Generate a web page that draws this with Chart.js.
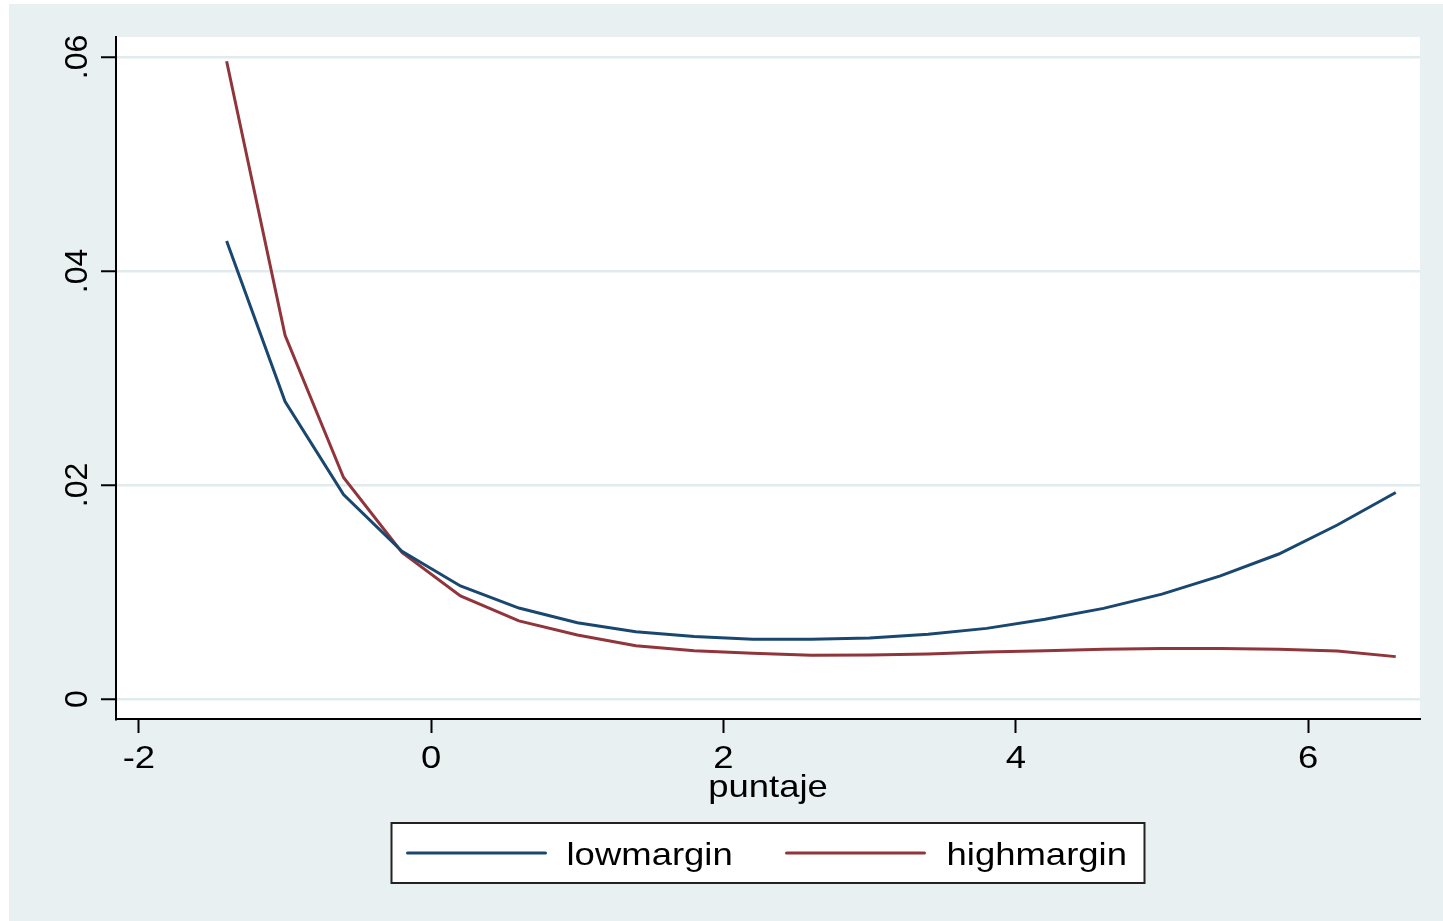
<!DOCTYPE html>
<html><head><meta charset="utf-8">
<script src="https://cdn.jsdelivr.net/npm/chart.js@4.4.1/dist/chart.umd.min.js"></script>
<style>html,body{margin:0;padding:0;background:#fff;overflow:hidden}#wrap{width:1443px;height:921px;position:relative}</style>
</head><body><div id="wrap"><canvas id="c"></canvas></div>
<script>
// ---- data ----
const puntaje    = [-1.4, -1.0, -0.6, -0.2, 0.2, 0.6, 1.0, 1.4, 1.8, 2.2, 2.6, 3.0, 3.4, 3.8, 4.2, 4.6, 5.0, 5.4, 5.8, 6.2, 6.6];
const lowmargin  = [0.0428, 0.0278, 0.0191, 0.0138, 0.01056, 0.0085, 0.00713, 0.00629, 0.00583, 0.00558, 0.00558, 0.0057, 0.00604, 0.0066, 0.00745, 0.00847, 0.0098, 0.0115, 0.01355, 0.01626, 0.0193];
const highmargin = [0.0596, 0.0340, 0.0207, 0.0137, 0.00963, 0.0073, 0.00598, 0.00498, 0.00451, 0.00427, 0.00408, 0.00411, 0.0042, 0.0044, 0.0045, 0.00464, 0.00472, 0.00473, 0.00464, 0.00449, 0.00396];
const seriesNames = ['lowmargin', 'highmargin'];
const xTicks = [-2, 0, 2, 4, 6];
const xTickLabels = ['-2', '0', '2', '4', '6'];
const yTicks = [0, 0.02, 0.04, 0.06];
const yTickLabels = ['0', '.02', '.04', '.06'];
const xTitle = 'puntaje';

// ---- styling ----
const BG = '#e8f0f2';
const GRID = '#e1ebee';
const FONT = '32px "Liberation Sans", Arial, Helvetica, sans-serif';
const SX = 1.14; // horizontal stretch of horizontal text

function pts(ys) { return puntaje.map((x, i) => ({ x: x, y: ys[i] })); }

function stretchedText(ctx, txt, x, y, align) {
  ctx.save();
  ctx.translate(x, y);
  ctx.scale(SX, 1);
  ctx.textAlign = align;
  ctx.textBaseline = 'alphabetic';
  ctx.fillText(txt, 0, 0);
  ctx.restore();
}

const stataPlugin = {
  id: 'stata',
  beforeDraw(chart) {
    const ctx = chart.ctx, a = chart.chartArea;
    ctx.save();
    ctx.fillStyle = '#ffffff';
    ctx.fillRect(0, 0, chart.width, chart.height);
    ctx.fillStyle = BG;
    ctx.fillRect(9, 4, chart.width - 9, chart.height - 4);
    ctx.fillStyle = '#ffffff';
    ctx.fillRect(a.left, a.top, a.right - a.left, a.bottom - a.top);
    ctx.restore();
  },
  afterDraw(chart) {
    const ctx = chart.ctx, a = chart.chartArea;
    const xs = chart.scales.x, ys = chart.scales.y;
    ctx.save();
    ctx.fillStyle = '#000';
    ctx.font = FONT;
    // x tick labels
    xTicks.forEach((v, i) => {
      stretchedText(ctx, xTickLabels[i], xs.getPixelForValue(v), a.bottom + 49, 'center');
    });
    // x title
    stretchedText(ctx, xs.options.title.text, (a.left + a.right) / 2, a.bottom + 78, 'center');
    // y tick labels rotated
    yTicks.forEach((v, i) => {
      ctx.save();
      ctx.translate(87, ys.getPixelForValue(v));
      ctx.rotate(-Math.PI / 2);
      ctx.textAlign = 'center';
      ctx.textBaseline = 'alphabetic';
      ctx.fillText(yTickLabels[i], 0, 0);
      ctx.restore();
    });
    // legend
    const cx = (a.left + a.right) / 2;
    const bw = 753, bh = 60;
    const bx = cx - bw / 2, by = a.bottom + 104;
    ctx.fillStyle = '#ffffff';
    ctx.fillRect(bx, by, bw, bh);
    ctx.strokeStyle = '#222';
    ctx.lineWidth = 2;
    ctx.strokeRect(bx, by, bw, bh);
    const ly = by + 30;
    const items = [{ x0: bx + 16, tx: bx + 175 }, { x0: bx + 395, tx: bx + 555 }];
    chart.data.datasets.forEach((ds, i) => {
      const it = items[i];
      ctx.strokeStyle = ds.borderColor;
      ctx.lineWidth = 3;
      ctx.lineCap = 'round';
      ctx.beginPath();
      ctx.moveTo(it.x0, ly);
      ctx.lineTo(it.x0 + 138, ly);
      ctx.stroke();
      ctx.fillStyle = '#000';
      stretchedText(ctx, ds.label, it.tx, ly + 12, 'left');
    });
    ctx.restore();
  }
};

new Chart(document.getElementById('c'), {
  type: 'line',
  data: {
    datasets: [
      { label: seriesNames[0], data: pts(lowmargin), borderColor: '#1a476f', borderWidth: 3, pointRadius: 0, tension: 0, fill: false },
      { label: seriesNames[1], data: pts(highmargin), borderColor: '#90353b', borderWidth: 3, pointRadius: 0, tension: 0, fill: false }
    ]
  },
  options: {
    responsive: true,
    maintainAspectRatio: false,
    animation: false,
    events: [],
    layout: { padding: { left: 0, top: 37, right: 23, bottom: 0 } },
    plugins: { legend: { display: false }, tooltip: { enabled: false } },
    scales: {
      x: {
        type: 'linear',
        min: -2.157, max: 6.766,
        afterBuildTicks: s => { s.ticks = xTicks.map(v => ({ value: v })); },
        afterFit: s => { s.height = 202; },
        ticks: { display: false },
        title: { display: false, text: xTitle },
        grid: { drawOnChartArea: false, drawTicks: true, tickLength: 14, tickColor: '#000', tickWidth: 2 },
        border: { display: true, color: '#000', width: 2 }
      },
      y: {
        type: 'linear',
        min: -0.00187, max: 0.06187,
        afterBuildTicks: s => { s.ticks = yTicks.map(v => ({ value: v })); },
        afterFit: s => { s.width = 116; },
        ticks: { display: false },
        grid: { color: GRID, lineWidth: 2.5, drawTicks: true, tickLength: 15, tickColor: '#000', tickWidth: 2 },
        border: { display: true, color: '#000', width: 2 }
      }
    }
  },
  plugins: [stataPlugin]
});
</script>
</body></html>
